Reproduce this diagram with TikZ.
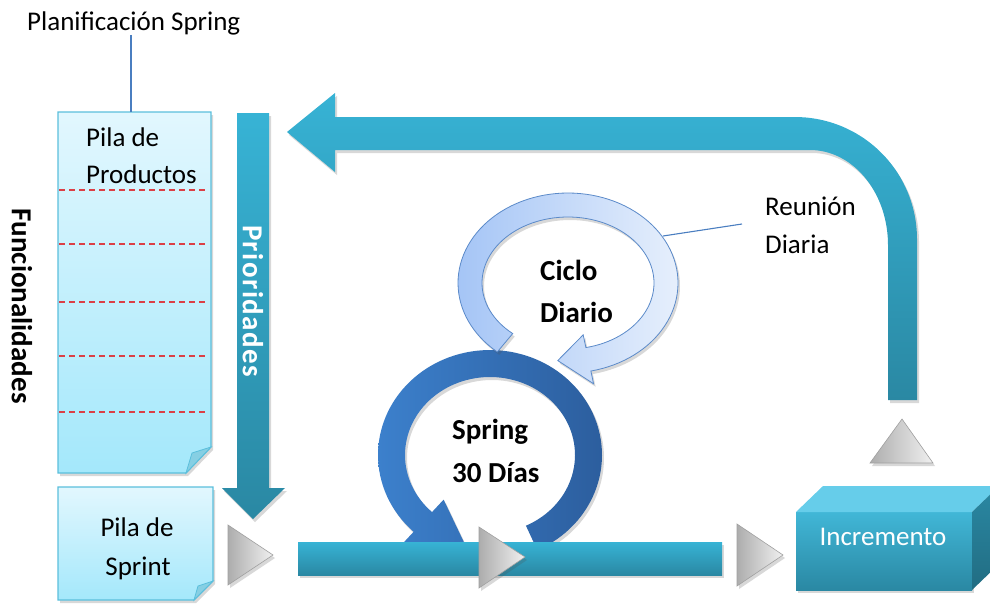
\documentclass[tikz,border=0pt]{standalone}
\usepackage{fontspec}
\setmainfont{Carlito}
\usetikzlibrary{shadows}

\definecolor{boxtop}{HTML}{E2F7FE}
\definecolor{boxbot}{HTML}{A4E8FB}
\definecolor{boxline}{HTML}{5BBFDC}
\definecolor{foldcol}{HTML}{86CFE3}
\definecolor{tealA}{HTML}{37B3D5}
\definecolor{tealB}{HTML}{2A88A3}
\definecolor{ringA}{HTML}{3C80CC}
\definecolor{ringB}{HTML}{2C5E9E}
\definecolor{lightA}{HTML}{A5C5F6}
\definecolor{lightB}{HTML}{E6EFFC}
\definecolor{lightline}{HTML}{5B8AC9}
\definecolor{grayA}{HTML}{ADADAD}
\definecolor{grayB}{HTML}{F0F0F0}
\definecolor{grayline}{HTML}{A0A0A0}
\definecolor{dashred}{HTML}{DC3F45}
\definecolor{leadercol}{HTML}{4A7EC0}
\definecolor{cubetop}{HTML}{66CDEA}
\definecolor{cubeside}{HTML}{2A88A4}

\tikzset{
  softshadow/.style={drop shadow={shadow xshift=2pt, shadow yshift=-3pt, opacity=.22, fill=black!70}},
  notebox/.style={top color=boxtop, bottom color=boxbot, draw=boxline, line width=1.3pt, softshadow},
  fold/.style={fill=foldcol, draw=boxline, line width=.8pt},
  rowline/.style={draw=dashred, line width=1.2pt, dash pattern=on 6pt off 4pt},
  tealarrow/.style={top color=tealA, bottom color=tealB, softshadow},
  ringarrow/.style={left color=ringA, right color=ringB, softshadow},
  lightarrow/.style={left color=lightA, right color=lightB, draw=lightline, line width=.8pt, softshadow},
  grayarrow/.style={left color=grayA, right color=grayB, draw=grayline, line width=.6pt, softshadow},
  leader/.style={draw=leadercol, line width=1.1pt},
  txt/.style={inner sep=0pt, font=\fontsize{27}{32}\selectfont},
  btxt/.style={inner sep=0pt, font=\fontsize{29}{34}\selectfont\bfseries},
}

\begin{document}
\begin{tikzpicture}[x=1pt,y=-1pt]
\useasboundingbox (0,0) rectangle (990,603);

% product backlog sheet
\path[notebox] (58,112) -- (211,112) -- (211,447) -- (186,473) -- (58,473) -- cycle;
\path[fold] (211,447) -- (192,453) -- (186,473) -- cycle;
\foreach \yy in {190,244,302,356,412}
  \path[rowline] (59,\yy) -- (207,\yy);
\coordinate (ppTop) at (131,112);

% sprint backlog sheet
\path[notebox] (58,487) -- (213,487) -- (213,581) -- (194,600) -- (58,600) -- cycle;
\path[fold] (213,581) -- (198,586) -- (194,600) -- cycle;

% priorities arrow
\path[tealarrow] (237,113) -- (269,113) -- (269,488) -- (285,488) -- (253,519) -- (222,488) -- (237,488) -- cycle;

% feedback arrow from the increment back to the backlog
\path[tealarrow] (287,132) -- (335,93) -- (335,117) -- (795,117)
  -- plot[domain=270:360,samples=40] ({795+122*cos(\x)},{239+122*sin(\x)})
  -- (917,400) -- (888,400)
  -- plot[domain=360:270,samples=40] ({810+78*cos(\x)},{245+95*sin(\x)})
  -- (335,150) -- (335,172) -- cycle;

% sprint cycle
\path[ringarrow] plot[domain=65:-227,samples=100] ({490+112*cos(\x)},{455+105*sin(\x)})
  -- ({490+129*cos(-227)},{455+122*sin(-227)})
  -- ({490+98.5*cos(-255)},{455+91.5*sin(-255)})
  -- ({490+68*cos(-227)},{455+61*sin(-227)})
  -- plot[domain=-227:65,samples=100] ({490+85*cos(\x)},{455+78*sin(\x)}) -- cycle;

% daily cycle
\path[lightarrow] plot[domain=130:438,samples=100] ({568+110*cos(\x)},{283+90*sin(\x)})
  -- ({568+123*cos(438)},{283+103*sin(438)})
  -- ({568+98*cos(456)},{283+78*sin(456)})
  -- ({568+73*cos(438)},{283+53*sin(438)})
  -- plot[domain=438:130,samples=100] ({568+86*cos(\x)},{283+66*sin(\x)}) -- cycle;
\coordinate (dailyEdge) at (663,236);
\coordinate (reuEnd) at (742,224);

% timeline bar
\path[tealarrow] (298,542) rectangle (722,575);

% flow markers
\path[grayarrow] (228,525) -- (273,555) -- (228,585) -- cycle;
\path[grayarrow] (479,527) -- (525,557) -- (479,588) -- cycle;
\path[grayarrow] (737,524) -- (783,555) -- (737,586) -- cycle;
\path[grayarrow] (870,463) -- (902,419) -- (933,463) -- cycle;

% increment block
\path[softshadow, top color=tealA!95!white, bottom color=tealB] (796,512) rectangle (972,590);
\path[fill=cubetop] (796,512) -- (823,486) -- (999,486) -- (972,512) -- cycle;
\path[top color=tealB, bottom color=tealB!80!black] (972,512) -- (999,486) -- (999,564) -- (972,590) -- cycle;
\node[txt, text=white, anchor=base] (incr) at (883,545) {Incremento};

% labels
\node[txt, anchor=base west] (plan) at (27,30) {Planificación Spring};
\draw[leader] (plan.south -| ppTop) -- (ppTop);

\node[txt, anchor=base west] (pp1) at (86,146) {Pila de};
\node[txt, anchor=base west] (pp2) at (86,183) {Productos};

\node[txt, anchor=base] (ps1) at (137,536) {Pila de};
\node[txt, anchor=base] (ps2) at (138,575) {Sprint};

\node[txt, anchor=base west] (reu1) at (765,215) {Reunión};
\node[txt, anchor=base west] (reu2) at (765,253) {Diaria};
\draw[leader] (dailyEdge) -- (reuEnd);

\node[btxt, anchor=base west] (cd1) at (540,280) {Ciclo};
\node[btxt, anchor=base west] (cd2) at (540,322) {Diario};

\node[btxt, anchor=base west] (sp1) at (452,439) {Spring};
\node[btxt, anchor=base west] (sp2) at (452,482) {30 Días};

\node[btxt, rotate=-90] (func) at (22,306) {Funcionalidades};
\node[btxt, rotate=-90, text=white] (prio) at (253,301) {\addfontfeature{LetterSpace=5}Prioridades};
\end{tikzpicture}
\end{document}
